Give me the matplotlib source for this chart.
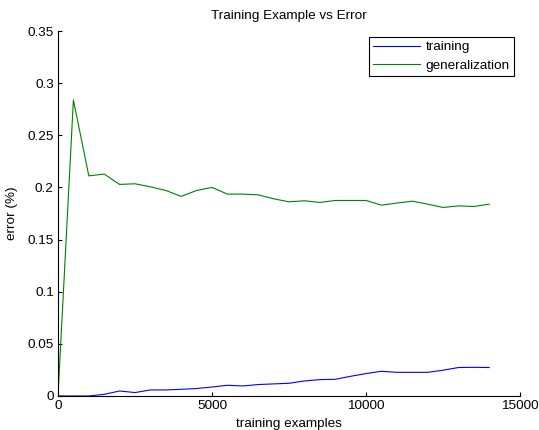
import numpy as np
import matplotlib
matplotlib.use("Agg")
import matplotlib.pyplot as plt

plt.rcParams['font.family'] = ['Liberation Sans', 'DejaVu Sans']

# training set sizes
examples = np.arange(0, 14001, 500)

# error on the training set
training = [0.0, 0.0, 0.0, 0.0016, 0.0048, 0.0033, 0.0058, 0.0058, 0.0064, 0.0072,
            0.0086, 0.0103, 0.0096, 0.0110, 0.0116, 0.0122, 0.0144, 0.0157, 0.0160,
            0.0189, 0.0215, 0.0237, 0.0227, 0.0227, 0.0227, 0.0247, 0.0273, 0.0275,
            0.0273]

# error on unseen data
generalization = [0.0, 0.2838, 0.2111, 0.2128, 0.2029, 0.2035, 0.2006, 0.1971, 0.1914,
                  0.1971, 0.2000, 0.1936, 0.1936, 0.1929, 0.1891, 0.1862, 0.1872,
                  0.1856, 0.1875, 0.1875, 0.1875, 0.1830, 0.1850, 0.1868, 0.1840,
                  0.1808, 0.1823, 0.1817, 0.1840]

fs = 9.7

fig = plt.figure(figsize=(5.39, 4.30), dpi=100)
ax = fig.add_axes([58/539, 1 - 396/430, (520 - 58)/539, (396 - 31)/430])

ax.plot(examples, training, color=(0, 0, 1), lw=0.8, label='training')
ax.plot(examples, generalization, color=(0, 0.5, 0), lw=0.8, label='generalization')

# format axes (matlab look)
ax.set_xlim(0, 15000)
ax.set_ylim(0, 0.35)
ax.set_xticks([0, 5000, 10000, 15000])
ax.set_yticks([0, 0.05, 0.1, 0.15, 0.2, 0.25, 0.3, 0.35])
ax.set_yticklabels(['0', '0.05', '0.1', '0.15', '0.2', '0.25', '0.3', '0.35'])
ax.spines['top'].set_visible(False)
ax.spines['right'].set_visible(False)
for s in ('left', 'bottom'):
    ax.spines[s].set_linewidth(0.8)
ax.tick_params(direction='in', length=3, width=0.8, labelsize=fs, pad=3)

ax.set_title('Training Example vs Error', fontsize=fs, pad=9)
ax.set_xlabel('training examples', fontsize=fs, labelpad=4)
ax.set_ylabel('error (%)', fontsize=fs, labelpad=7)

leg = ax.legend(loc='upper right', bbox_to_anchor=(514/539, 1 - 37/430),
                bbox_transform=fig.transFigure, fontsize=fs, fancybox=False,
                framealpha=1, edgecolor='black', borderpad=0.3,
                handlelength=3.5, handletextpad=0.4, labelspacing=0.45,
                borderaxespad=0)
leg.get_frame().set_linewidth(0.8)

fig.savefig('out.png', dpi=100)
